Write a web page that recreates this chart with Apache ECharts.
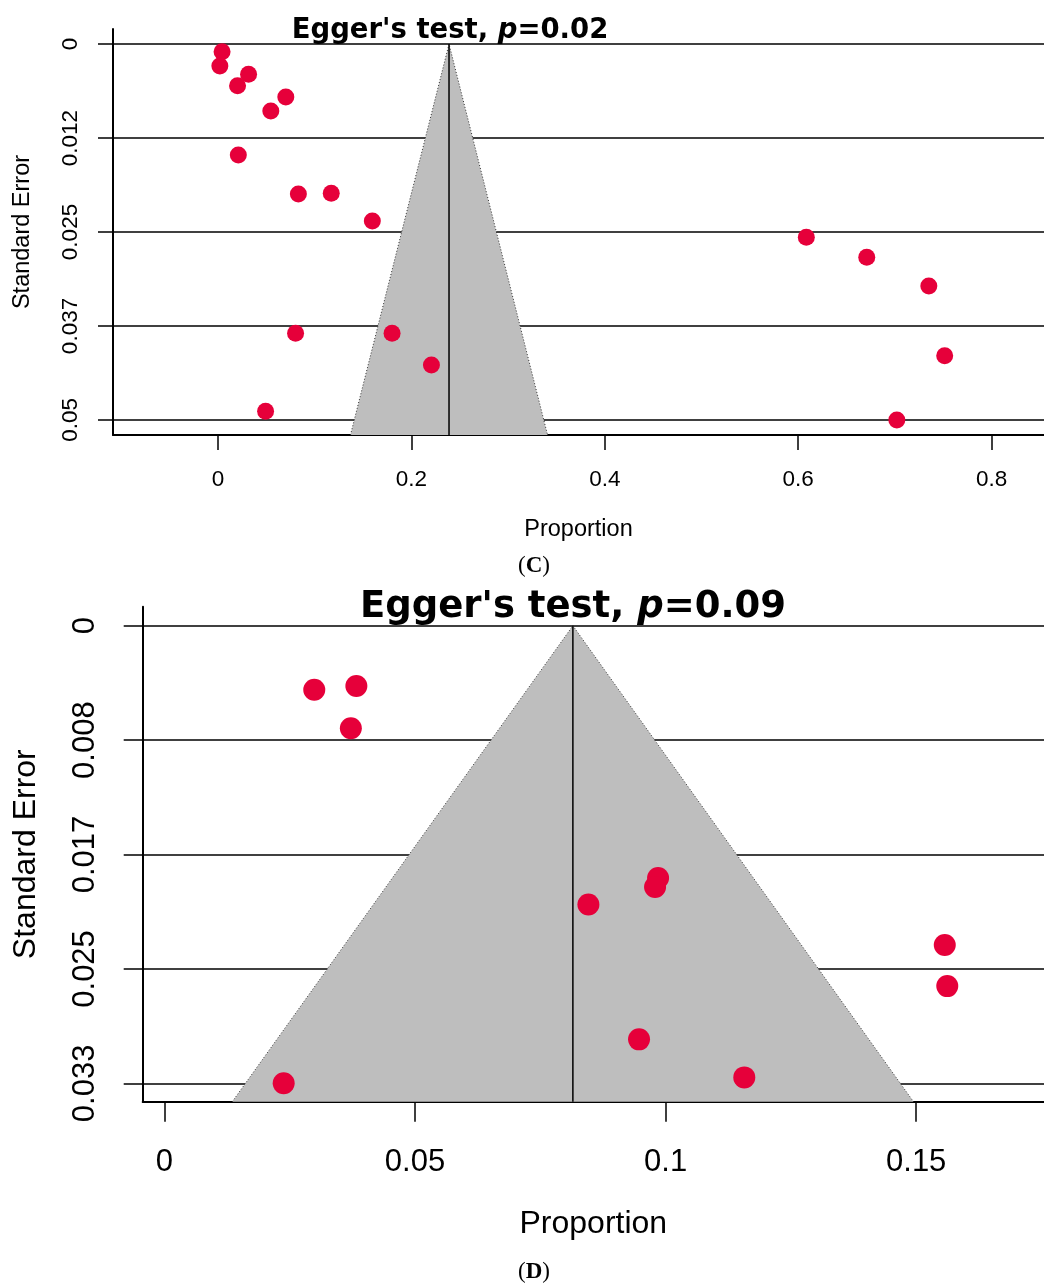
<!DOCTYPE html>
<html>
<head>
<meta charset="utf-8">
<script src="https://cdn.jsdelivr.net/npm/echarts@6/dist/echarts.min.js"></script>
<style>
  html, body { margin: 0; padding: 0; background: #fff; }
  #main { width: 1044px; height: 1286px; }
</style>
</head>
<body>
<div id="main"></div>
<script>
// panel C data
var propC = [0.0042, 0.0019, 0.0316, 0.0202, 0.0701, 0.0546, 0.0210, 0.0831, 0.1171, 0.1596,
             0.6084, 0.6709, 0.7351, 0.0802, 0.1800, 0.2207, 0.7515, 0.0492, 0.7020];
var seC = [0.00102, 0.00293, 0.00403, 0.00555, 0.00705, 0.00891, 0.01476, 0.01995, 0.01985, 0.02354,
           0.02570, 0.02836, 0.03218, 0.03847, 0.03847, 0.04269, 0.04145, 0.04884, 0.05000];
var pooledC = 0.2389;
var yTicksC = [0, 0.0125, 0.025, 0.0375, 0.05];
var yLabelsC = ["0", "0.012", "0.025", "0.037", "0.05"];
var xTicksC = [0, 0.2, 0.4, 0.6, 0.8];
var xLabelsC = ["0", "0.2", "0.4", "0.6", "0.8"];

// panel D data
var propD = [0.0299, 0.0383, 0.0372, 0.0985, 0.0979, 0.0846, 0.1557, 0.1562, 0.0947, 0.1157, 0.0238];
var seD = [0.00466, 0.00439, 0.00747, 0.01838, 0.01903, 0.02031, 0.02326, 0.02625, 0.03013, 0.03290, 0.03333];
var pooledD = 0.0815;
var yTicksD = [0, 0.008333, 0.016667, 0.025, 0.033333];
var yLabelsD = ["0", "0.008", "0.017", "0.025", "0.033"];
var xTicksD = [0, 0.05, 0.1, 0.15];
var xLabelsD = ["0", "0.05", "0.1", "0.15"];

void (function() {
  var chart = echarts.init(document.getElementById("main"));
  var red = "#E6003A";
  var font = "'Liberation Sans', Arial, sans-serif";

  // axis ranges
  var rangeC = { xmin: -0.1086, xmax: 0.8542, ymin: -0.002, ymax: 0.052 };
  var rangeD = { xmin: -0.00433, xmax: 0.1755, ymin: -0.001384, ymax: 0.03467 };

  function pairs(xs, ys) {
    var res = [];
    for (var i = 0; i < xs.length; i++) res.push([xs[i], ys[i]]);
    return res;
  }

  function funnelSeries(idx, pooled, seMax) {
    var lo = pooled - 1.96 * seMax, hi = pooled + 1.96 * seMax;
    return {
      type: "custom",
      xAxisIndex: idx,
      yAxisIndex: idx,
      z: 1,
      silent: true,
      data: [[lo, seMax, pooled, 0, hi, seMax]],
      renderItem: function(params, api) {
        var a = api.coord([api.value(0), api.value(1)]);
        var b = api.coord([api.value(2), api.value(3)]);
        var c = api.coord([api.value(4), api.value(5)]);
        var base = api.coord([api.value(2), api.value(1)]);
        return {
          type: "group",
          children: [
            { type: "polygon", shape: { points: [a, b, c] }, style: { fill: "#BEBEBE" } },
            { type: "polyline", shape: { points: [a, b, c] },
              style: { stroke: "#333", lineWidth: 1, lineDash: [1, 2], fill: null } },
            { type: "line", shape: { x1: b[0], y1: b[1], x2: base[0], y2: base[1] },
              style: { stroke: "#000", lineWidth: 1.5 } }
          ]
        };
      }
    };
  }

  function yAxisOpt(idx, range, ticks, labels, fs, nfs, tickLen, margin, nameGap) {
    return {
      gridIndex: idx,
      type: "value",
      inverse: true,
      min: range.ymin,
      max: range.ymax,
      name: "Standard Error",
      nameLocation: "middle",
      nameGap: nameGap,
      nameRotate: 90,
      nameTextStyle: { color: "#000", fontSize: nfs, fontFamily: font },
      axisLine: { show: true, onZero: false, lineStyle: { color: "#000", width: 2 } },
      axisTick: { show: true, length: tickLen, customValues: ticks, lineStyle: { color: "#000", width: 1.5 } },
      axisLabel: {
        customValues: ticks,
        rotate: 90,
        margin: margin,
        color: "#000",
        fontSize: fs,
        fontFamily: font,
        formatter: function(v) {
          for (var i = 0; i < ticks.length; i++) if (Math.abs(ticks[i] - v) < 1e-7) return labels[i];
          return "";
        }
      },
      splitLine: { show: true, lineStyle: { color: "#000", width: 1.5 } }
    };
  }

  function xAxisOpt(idx, range, ticks, labels, fs, nfs, tickLen, margin, nameGap) {
    return {
      gridIndex: idx,
      type: "value",
      min: range.xmin,
      max: range.xmax,
      name: "Proportion",
      nameLocation: "middle",
      nameGap: nameGap,
      nameTextStyle: { color: "#000", fontSize: nfs, fontFamily: font },
      axisLine: { show: true, onZero: false, lineStyle: { color: "#000", width: 2 } },
      axisTick: { show: true, length: tickLen, customValues: ticks, lineStyle: { color: "#000", width: 1.5 } },
      axisLabel: {
        customValues: ticks,
        margin: margin,
        color: "#000",
        fontSize: fs,
        fontFamily: font,
        formatter: function(v) {
          for (var i = 0; i < ticks.length; i++) if (Math.abs(ticks[i] - v) < 1e-7) return labels[i];
          return "";
        }
      },
      splitLine: { show: false }
    };
  }

  function titleOpt(text, x, y, fs) {
    return {
      text: "{b|Egger's test, }{i|p}{b|=" + text + "}",
      left: x,
      top: y,
      textAlign: "center",
      textStyle: {
        rich: {
          b: { fontSize: fs, fontWeight: "bold", fontFamily: "'DejaVu Sans', Verdana, sans-serif", color: "#000" },
          i: { fontSize: fs, fontWeight: "bold", fontStyle: "italic", fontFamily: "'DejaVu Sans', Verdana, sans-serif", color: "#000" }
        }
      }
    };
  }

  function caption(letter, x, y) {
    return {
      type: "text",
      x: x,
      y: y,
      style: {
        text: "{r|(}{b|" + letter + "}{r|)}",
        align: "center",
        verticalAlign: "middle",
        rich: {
          r: { fontSize: 23, fontFamily: "'Liberation Serif', 'Times New Roman', serif", fill: "#000" },
          b: { fontSize: 23, fontWeight: "bold", fontFamily: "'Liberation Serif', 'Times New Roman', serif", fill: "#000" }
        }
      }
    };
  }

  var option = {
    backgroundColor: "#fff",
    animation: false,
    title: [
      titleOpt("0.02", 445, 12, 27.5),
      titleOpt("0.09", 568, 584, 37)
    ],
    grid: [
      { left: 113, top: 29, right: 0, height: 406 },
      { left: 142.7, top: 606.7, right: 0, height: 495 }
    ],
    xAxis: [
      xAxisOpt(0, rangeC, xTicksC, xLabelsC, 22.5, 23.5, 15, 33, 83),
      xAxisOpt(1, rangeD, xTicksD, xLabelsD, 31, 32, 20, 45, 106)
    ],
    yAxis: [
      yAxisOpt(0, rangeC, yTicksC, yLabelsC, 22.5, 23.5, 15, 31, 78),
      yAxisOpt(1, rangeD, yTicksD, yLabelsD, 31, 32, 19, 42, 101)
    ],
    graphic: [
      caption("C", 534, 566),
      caption("D", 534, 1272)
    ],
    series: [
      funnelSeries(0, pooledC, rangeC.ymax),
      funnelSeries(1, pooledD, rangeD.ymax),
      {
        name: "C",
        type: "scatter",
        xAxisIndex: 0,
        yAxisIndex: 0,
        z: 3,
        symbolSize: 17,
        itemStyle: { color: red, opacity: 1 },
        data: pairs(propC, seC)
      },
      {
        name: "D",
        type: "scatter",
        xAxisIndex: 1,
        yAxisIndex: 1,
        z: 3,
        symbolSize: 22,
        itemStyle: { color: red, opacity: 1 },
        data: pairs(propD, seD)
      }
    ]
  };

  chart.setOption(option);
})();
</script>
</body>
</html>
